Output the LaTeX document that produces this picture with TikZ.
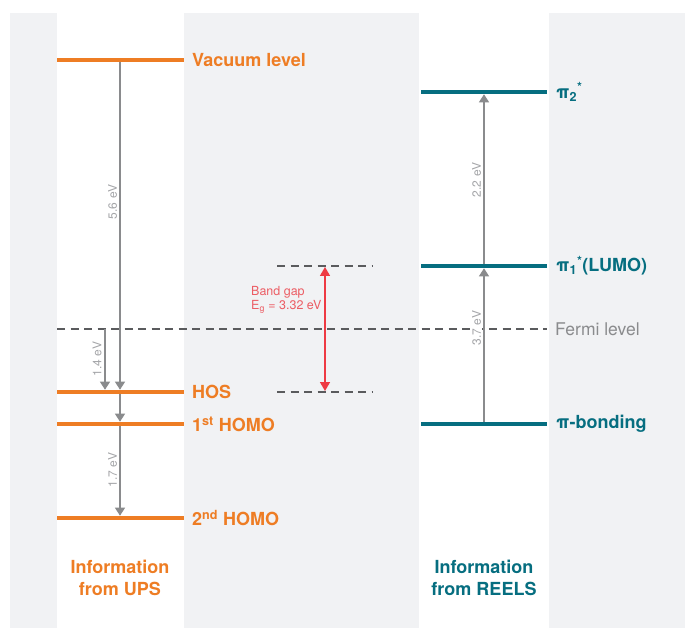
\documentclass[tikz,border=0pt]{standalone}
\usepackage{fontspec}
\setmainfont{TeX Gyre Heros}
\usetikzlibrary{arrows.meta}
\definecolor{upsorange}{HTML}{EE7D24}
\definecolor{reelsteal}{HTML}{066E80}
\definecolor{gapred}{HTML}{EE3A43}
\definecolor{gaptext}{HTML}{EC5D64}
\definecolor{panelgrey}{HTML}{F1F2F4}
\definecolor{dashgrey}{HTML}{5A5B5D}
\definecolor{arrowgrey}{HTML}{8A8B8D}
\definecolor{evgrey}{HTML}{A5A6A9}

\begin{document}
\begin{tikzpicture}[x=1pt,y=-1pt,
  level/.style={line width=4.5pt},
  fermi/.style={dashgrey,line width=2pt,dash pattern=on 8pt off 5.5pt},
  ev/.style={arrowgrey,line width=1.2pt,shorten >=2.3pt,
    -{Triangle[width=10pt,length=8pt]}},
  evlabel/.style={rotate=90,text=evgrey,fill=white,inner sep=1.5pt,
    font=\fontsize{12}{14}\selectfont},
  lvl/.style={anchor=west,inner sep=0pt,font=\fontsize{18}{21}\selectfont\bfseries},
  info/.style={align=center,inner sep=0pt,font=\fontsize{18}{22}\selectfont\bfseries}]
\path[use as bounding box] (0,0) rectangle (685,628);

% panel and the two columns
\fill[panelgrey] (10,13) rectangle (685,628);
\fill[white] (57,13) rectangle (184,628);
\fill[white] (419,13) rectangle (549,628);

% Fermi level and band gap
\draw[fermi] (57,329) -- (547,329);
\draw[fermi] (277,266) -- (373,266);
\draw[fermi] (277,392) -- (373,392);
\node[anchor=west,inner sep=0pt,text=arrowgrey,font=\fontsize{17.5}{20}\selectfont]
  (fermi) at (555,329) {Fermi level};

\coordinate (gapTop) at (325,267);
\coordinate (gapBot) at (325,391);
\draw[gapred,line width=1.6pt,{Triangle[width=10pt,length=9pt]}-{Triangle[width=10pt,length=9pt]}]
  (gapBot) -- (gapTop);
\node[anchor=west,align=left,inner sep=0pt,text=gaptext,font=\fontsize{12.5}{14.5}\selectfont]
  (gap) at (251,300) {Band gap\\E\textsubscript{g} = 3.32 eV};

% UPS side
\coordinate (vacA) at (120,60);
\coordinate (hosA) at (120,392);
\coordinate (homoA) at (120,424);
\coordinate (homoB) at (120,518);
\coordinate (fermiA) at (105,329);
\coordinate (hosB) at (105,392);
\node[evlabel] (e56) at (112.5,202) {5.6 eV};
\node[evlabel] (e14) at (97,359) {1.4 eV};
\node[evlabel] (e17) at (112.5,470) {1.7 eV};
\draw[ev] (vacA) -- (hosA);
\draw[ev] (fermiA) -- (hosB);
\draw[ev] (hosA) -- (homoA);
\draw[ev] (homoA) -- (homoB);

\draw[level,upsorange] (57,60) -- (184,60);
\draw[level,upsorange] (57,392) -- (184,392);
\draw[level,upsorange] (57,424) -- (184,424);
\draw[level,upsorange] (57,518) -- (184,518);
\node[lvl,text=upsorange] (vac) at (192,60) {Vacuum level};
\node[lvl,text=upsorange] (hos) at (192,392) {HOS};
\node[lvl,text=upsorange] (homo1) at (192,424) {1\textsuperscript{st} HOMO};
\node[lvl,text=upsorange] (homo2) at (192,518) {2\textsuperscript{nd} HOMO};
\node[info,text=upsorange] (ups) at (120,578) {Information\\from UPS};

% REELS side
\coordinate (piB) at (484,424);
\coordinate (piA) at (484,266);
\coordinate (piC) at (484,92);
\node[evlabel] (e37) at (476.5,328) {3.7 eV};
\node[evlabel] (e22) at (476.5,180) {2.2 eV};
\draw[ev] (piB) -- (piA);
\draw[ev] (piA) -- (piC);

\draw[level,reelsteal] (421,92) -- (547,92);
\draw[level,reelsteal] (421,266) -- (547,266);
\draw[level,reelsteal] (421,424) -- (547,424);
\node[lvl,text=reelsteal] (pi2) at (556,92) {π\textsubscript{2}\textsuperscript{*}};
\node[lvl,text=reelsteal] (pi1) at (556,266) {π\textsubscript{1}\textsuperscript{*}(LUMO)};
\node[lvl,text=reelsteal] (pib) at (556,424) {π-bonding};
\node[info,text=reelsteal] (reels) at (484,578) {Information\\from REELS};
\end{tikzpicture}
\end{document}
